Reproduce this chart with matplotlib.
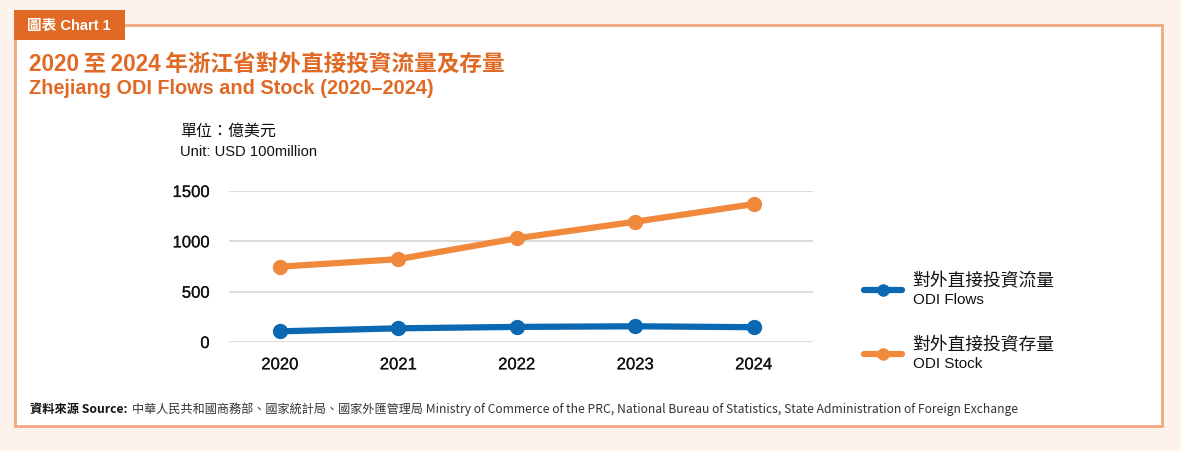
import matplotlib.pyplot as plt
import matplotlib.patheffects as pe
from matplotlib.patches import Rectangle
from matplotlib.lines import Line2D

years = ["2020", "2021", "2022", "2023", "2024"]
odi_flows = [106, 136, 150, 156, 147]
odi_stock = [748, 823, 1030, 1195, 1370]
y_ticks = [0, 500, 1000, 1500]

W, H = 1181, 452
BG = "#FDF3EC"
ORANGE_DARK = "#E06A25"
BORDER = "#F2A77E"
BLUE = "#0B68B3"
ORANGE = "#F0893C"
CJK = ["Noto Sans CJK TC", "DejaVu Sans"]
LATIN = ["Liberation Sans", "Noto Sans CJK TC", "DejaVu Sans"]

plt.rcParams["font.family"] = CJK

fig = plt.figure(figsize=(W / 100, H / 100), dpi=100)
fig.patch.set_facecolor(BG)


def px(x, y):
    return x / W, 1 - y / H


# white card with orange border
x0, y0 = px(15, 427)
x1, y1 = px(1162, 26)
fig.patches.append(Rectangle((x0, y0), x1 - x0, y1 - y0, transform=fig.transFigure,
                             facecolor="white", edgecolor=BORDER, linewidth=2, zorder=-3))
# tag
tx0, ty0 = px(14, 41)
tx1, ty1 = px(125, 11)
fig.patches.append(Rectangle((tx0, ty0), tx1 - tx0, ty1 - ty0, transform=fig.transFigure,
                             facecolor=ORANGE_DARK, edgecolor="none", zorder=-2))
fig.text(*px(27, 26), "圖表 Chart 1", color="white", fontsize=10.5, fontweight="bold",
         va="center", ha="left", family=LATIN)

# titles
fig.text(*px(29, 64), "2020\u2009至\u20092024\u2009年浙江省對外直接投資流量及存量", color=ORANGE_DARK,
         fontsize=16.3, fontweight="bold", va="center", ha="left", family=LATIN)
fig.text(*px(29, 89), "Zhejiang ODI Flows and Stock (2020–2024)", color=ORANGE_DARK,
         fontsize=14.3, fontweight="bold", va="center", ha="left", family=LATIN)

# unit
fig.text(*px(180, 131), "單位：億美元", color="#111111", fontsize=11.5, va="center", ha="left")
fig.text(*px(180, 152), "Unit: USD 100million", color="#111111", fontsize=10.6, va="center",
         ha="left", family=LATIN)

# axes
ax_l, ax_b = px(229, 343)
ax_r, ax_t = px(813, 192)
ax = fig.add_axes([ax_l, ax_b, ax_r - ax_l, ax_t - ax_b])
ax.set_facecolor("none")
xs = list(range(len(years)))
ax.plot(xs, odi_flows, color=BLUE, linewidth=4.5, marker="o", markersize=10,
        solid_capstyle="round", clip_on=False, zorder=3)
ax.plot(xs, odi_stock, color=ORANGE, linewidth=4.5, marker="o", markersize=10,
        solid_capstyle="round", clip_on=False, zorder=3)
ax.set_xlim(-0.43, 4.5)
ax.set_ylim(0, 1500)
ax.set_yticks(y_ticks)
ax.set_yticklabels([str(v) for v in y_ticks])
ax.set_xticks(xs)
ax.set_xticklabels(years)
ax.grid(axis="y", color="#D9D9D9", linewidth=1.3)
ax.set_axisbelow(True)
for s in ax.spines.values():
    s.set_visible(False)
ax.tick_params(length=0, labelsize=12, colors="#111111")
ax.tick_params(axis="y", pad=14)
ax.tick_params(axis="x", pad=11)
for lab in ax.get_xticklabels() + ax.get_yticklabels():
    lab.set_family(["Liberation Sans", "DejaVu Sans"])
    lab.set_path_effects([pe.withStroke(linewidth=0.15, foreground="#111111")])

# legend
legend_items = [
    (291, BLUE, "對外直接投資流量", "ODI Flows"),
    (355, ORANGE, "對外直接投資存量", "ODI Stock"),
]
for ly, col, zh, en in legend_items:
    lx0, lyy = px(864, ly)
    lx1, _ = px(902, ly)
    fig.lines.append(Line2D([lx0, lx1], [lyy, lyy], transform=fig.transFigure, color=col,
                            linewidth=4.5, solid_capstyle="round"))
    mx, _ = px(883, ly)
    fig.lines.append(Line2D([mx], [lyy], transform=fig.transFigure, color=col,
                            marker="o", markersize=8))
    fig.text(*px(912, ly - 10), zh, color="#111111", fontsize=12.8, va="center", ha="left")
    fig.text(*px(913, ly + 9), en, color="#111111", fontsize=11, va="center", ha="left",
             family=LATIN)

# source
fig.text(*px(30, 409), "資料來源 Source:", color="#111111", fontsize=8.8, fontweight="bold",
         va="center", ha="left")
fig.text(*px(132, 409),
         "中華人民共和國商務部、國家統計局、國家外匯管理局 Ministry of Commerce of the PRC, "
         "National Bureau of Statistics, State Administration of Foreign Exchange",
         color="#333333", fontsize=8.7, va="center", ha="left")

fig.savefig("out.png", dpi=100, facecolor=BG)
